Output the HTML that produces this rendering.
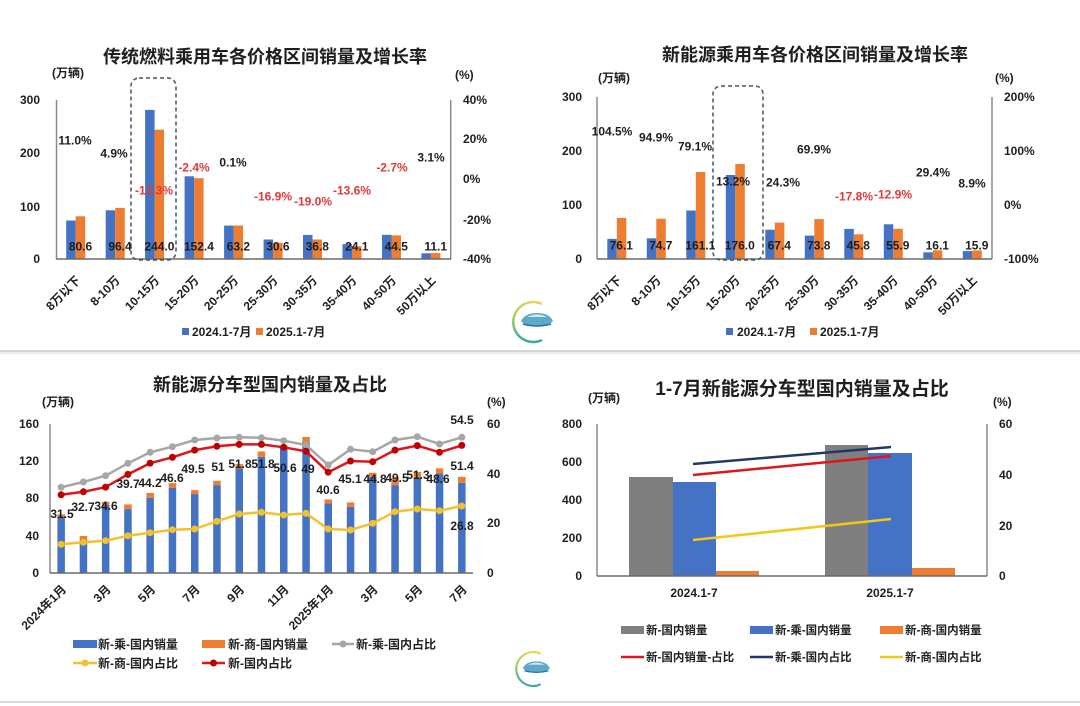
<!DOCTYPE html>
<html><head><meta charset="utf-8">
<style>
html,body{margin:0;padding:0;background:#fff;}
svg{display:block;}
svg text{font-family:"Liberation Sans","Noto Sans CJK SC",sans-serif;font-weight:bold;fill:#1e1e1e;}
.t{font-size:18px;}
.a{font-size:12px;}
.r{fill:#e23a3a;}
</style></head><body>
<svg width="1080" height="706" viewBox="0 0 1080 706" xmlns="http://www.w3.org/2000/svg">
<defs>
<linearGradient id="lg" x1="0" y1="0" x2="0" y2="1">
<stop offset="0" stop-color="#e8d35a"/><stop offset="0.5" stop-color="#8fc46a"/><stop offset="1" stop-color="#3aa6a0"/>
</linearGradient>
</defs>
<rect width="1080" height="706" fill="#fff"/>

<!-- separators -->
<rect x="0" y="350" width="1080" height="2" fill="#d4d4d4"/>
<rect x="0" y="352" width="1080" height="2" fill="#ececec"/>
<rect x="0" y="701" width="1080" height="2" fill="#d8d8d8"/>

<!-- ================= TOP LEFT ================= -->
<text class="t" x="265" y="63" text-anchor="middle">传统燃料乘用车各价格区间销量及增长率</text>
<text class="a" x="52" y="77">(万辆)</text>
<text class="a" x="455" y="79">(%)</text>
<g class="a" text-anchor="end">
<text x="40" y="104">300</text><text x="40" y="157">200</text><text x="40" y="211">100</text><text x="40" y="263">0</text>
</g>
<g class="a">
<text x="463" y="104">40%</text><text x="463" y="143">20%</text><text x="463" y="183">0%</text><text x="463" y="224">-20%</text><text x="463" y="263">-40%</text>
</g>
<g fill="#4472c4">
<rect x="66.2" y="220.5" width="9.5" height="38.5"/>
<rect x="105.7" y="210.3" width="9.5" height="48.7"/>
<rect x="145.1" y="109.9" width="9.5" height="149.1"/>
<rect x="184.6" y="176.3" width="9.5" height="82.7"/>
<rect x="224.1" y="225.6" width="9.5" height="33.4"/>
<rect x="263.6" y="239.5" width="9.5" height="19.5"/>
<rect x="303.0" y="234.9" width="9.5" height="24.1"/>
<rect x="342.5" y="244.2" width="9.5" height="14.8"/>
<rect x="382.0" y="234.8" width="9.5" height="24.2"/>
<rect x="421.4" y="253.3" width="9.5" height="5.7"/>
</g>
<g fill="#ed7d31">
<rect x="75.7" y="216.3" width="9.5" height="42.7"/>
<rect x="115.2" y="207.9" width="9.5" height="51.1"/>
<rect x="154.6" y="129.7" width="9.5" height="129.3"/>
<rect x="194.1" y="178.2" width="9.5" height="80.8"/>
<rect x="233.6" y="225.5" width="9.5" height="33.5"/>
<rect x="273.1" y="242.8" width="9.5" height="16.2"/>
<rect x="312.5" y="239.5" width="9.5" height="19.5"/>
<rect x="352.0" y="246.2" width="9.5" height="12.8"/>
<rect x="391.5" y="235.4" width="9.5" height="23.6"/>
<rect x="430.9" y="253.1" width="9.5" height="5.9"/>
</g>
<line x1="56.5" y1="100" x2="56.5" y2="259" stroke="#8a8a8a" stroke-width="1.5"/>
<line x1="450.7" y1="100" x2="450.7" y2="259" stroke="#8a8a8a" stroke-width="1.5"/>
<line x1="56" y1="259" x2="451" y2="259" stroke="#6a6a6a" stroke-width="1.5"/>
<rect x="131" y="78" width="45" height="182" rx="8" fill="none" stroke="#44546a" stroke-width="1.5" stroke-dasharray="4,3"/>
<g class="a" text-anchor="middle">
<text x="80.5" y="250.5">80.6</text><text x="120" y="250.5">96.4</text><text x="159.4" y="250.5">244.0</text><text x="198.9" y="250.5">152.4</text><text x="238.4" y="250.5">63.2</text><text x="277.9" y="250.5">30.6</text><text x="317.3" y="250.5">36.8</text><text x="356.8" y="250.5">24.1</text><text x="396.3" y="250.5">44.5</text><text x="435.7" y="250.5">11.1</text>
<text x="75" y="144.5">11.0%</text>
<text x="114" y="157.5">4.9%</text>
<text class="r" x="154" y="194.5">-13.3%</text>
<text class="r" x="194" y="171.5">-2.4%</text>
<text x="233" y="166.5">0.1%</text>
<text class="r" x="273" y="200.5">-16.9%</text>
<text class="r" x="313" y="205.5">-19.0%</text>
<text class="r" x="352" y="194.5">-13.6%</text>
<text class="r" x="392" y="171.5">-2.7%</text>
<text x="431" y="161.5">3.1%</text>
</g>
<g class="a" text-anchor="end">
<text transform="translate(78.2,278) rotate(-45)" dy=".35em">8万以下</text>
<text transform="translate(117.7,278) rotate(-45)" dy=".35em">8-10万</text>
<text transform="translate(157.1,278) rotate(-45)" dy=".35em">10-15万</text>
<text transform="translate(196.6,278) rotate(-45)" dy=".35em">15-20万</text>
<text transform="translate(236.1,278) rotate(-45)" dy=".35em">20-25万</text>
<text transform="translate(275.6,278) rotate(-45)" dy=".35em">25-30万</text>
<text transform="translate(315,278) rotate(-45)" dy=".35em">30-35万</text>
<text transform="translate(354.5,278) rotate(-45)" dy=".35em">35-40万</text>
<text transform="translate(394,278) rotate(-45)" dy=".35em">40-50万</text>
<text transform="translate(433.4,278) rotate(-45)" dy=".35em">50万以上</text>
</g>
<rect x="182" y="328" width="7" height="7" fill="#4472c4"/>
<text class="a" x="192" y="336">2024.1-7月</text>
<rect x="256" y="328" width="7" height="7" fill="#ed7d31"/>
<text class="a" x="266" y="336">2025.1-7月</text>

<!-- ================= TOP RIGHT ================= -->
<text class="t" x="815" y="61" text-anchor="middle">新能源乘用车各价格区间销量及增长率</text>
<text class="a" x="598" y="82">(万辆)</text>
<text class="a" x="995" y="82">(%)</text>
<g class="a" text-anchor="end">
<text x="582" y="101">300</text><text x="582" y="155">200</text><text x="582" y="209">100</text><text x="582" y="263">0</text>
</g>
<g class="a">
<text x="1004" y="101">200%</text><text x="1004" y="155">100%</text><text x="1004" y="209">0%</text><text x="1004" y="263">-100%</text>
</g>
<g fill="#4472c4">
<rect x="607.3" y="238.9" width="9.5" height="20.1"/>
<rect x="646.8" y="238.3" width="9.5" height="20.7"/>
<rect x="686.3" y="210.5" width="9.5" height="48.5"/>
<rect x="725.8" y="175.0" width="9.5" height="84.0"/>
<rect x="765.3" y="229.7" width="9.5" height="29.3"/>
<rect x="804.8" y="235.6" width="9.5" height="23.4"/>
<rect x="844.3" y="228.9" width="9.5" height="30.1"/>
<rect x="883.8" y="224.3" width="9.5" height="34.7"/>
<rect x="923.3" y="252.3" width="9.5" height="6.7"/>
<rect x="962.8" y="251.1" width="9.5" height="7.9"/>
</g>
<g fill="#ed7d31">
<rect x="616.8" y="217.9" width="9.5" height="41.1"/>
<rect x="656.3" y="218.7" width="9.5" height="40.3"/>
<rect x="695.8" y="172.0" width="9.5" height="87.0"/>
<rect x="735.3" y="164.0" width="9.5" height="95.0"/>
<rect x="774.8" y="222.6" width="9.5" height="36.4"/>
<rect x="814.3" y="219.1" width="9.5" height="39.9"/>
<rect x="853.8" y="234.3" width="9.5" height="24.7"/>
<rect x="893.3" y="228.8" width="9.5" height="30.2"/>
<rect x="932.8" y="250.3" width="9.5" height="8.7"/>
<rect x="972.3" y="250.4" width="9.5" height="8.6"/>
</g>
<line x1="597" y1="97" x2="597" y2="259" stroke="#8a8a8a" stroke-width="1.5"/>
<line x1="992" y1="97" x2="992" y2="259" stroke="#8a8a8a" stroke-width="1.5"/>
<line x1="597" y1="259" x2="992" y2="259" stroke="#6a6a6a" stroke-width="1.5"/>
<rect x="713" y="86" width="50" height="174" rx="8" fill="none" stroke="#44546a" stroke-width="1.5" stroke-dasharray="4,3"/>
<g class="a" text-anchor="middle">
<text x="621.3" y="249.5">76.1</text><text x="660.8" y="249.5">74.7</text><text x="700.3" y="249.5">161.1</text><text x="739.8" y="249.5">176.0</text><text x="779.3" y="249.5">67.4</text><text x="818.8" y="249.5">73.8</text><text x="858.3" y="249.5">45.8</text><text x="897.8" y="249.5">55.9</text><text x="937.3" y="249.5">16.1</text><text x="976.8" y="249.5">15.9</text>
<text x="612" y="135.5">104.5%</text>
<text x="656" y="141.5">94.9%</text>
<text x="695" y="150.5">79.1%</text>
<text x="733" y="185.5">13.2%</text>
<text x="783" y="186.5">24.3%</text>
<text x="814" y="153.5">69.9%</text>
<text class="r" x="854" y="200.5">-17.8%</text>
<text class="r" x="893" y="198.5">-12.9%</text>
<text x="933" y="176.5">29.4%</text>
<text x="972" y="187.5">8.9%</text>
</g>
<g class="a" text-anchor="end">
<text transform="translate(619.3,278) rotate(-45)" dy=".35em">8万以下</text>
<text transform="translate(658.8,278) rotate(-45)" dy=".35em">8-10万</text>
<text transform="translate(698.3,278) rotate(-45)" dy=".35em">10-15万</text>
<text transform="translate(737.8,278) rotate(-45)" dy=".35em">15-20万</text>
<text transform="translate(777.3,278) rotate(-45)" dy=".35em">20-25万</text>
<text transform="translate(816.8,278) rotate(-45)" dy=".35em">25-30万</text>
<text transform="translate(856.3,278) rotate(-45)" dy=".35em">30-35万</text>
<text transform="translate(895.8,278) rotate(-45)" dy=".35em">35-40万</text>
<text transform="translate(935.3,278) rotate(-45)" dy=".35em">40-50万</text>
<text transform="translate(974.8,278) rotate(-45)" dy=".35em">50万以上</text>
</g>
<rect x="726" y="328" width="7" height="7" fill="#4472c4"/>
<text class="a" x="737" y="336">2024.1-7月</text>
<rect x="810" y="328" width="7" height="7" fill="#ed7d31"/>
<text class="a" x="820" y="336">2025.1-7月</text>

<!-- logos -->
<g transform="translate(533,322)">
<path d="M 9 -18 A 20 20 0 1 0 9 18" fill="none" stroke="url(#lg)" stroke-width="2.5"/>
<path d="M -12 -1 Q -8 -9 4 -9 Q 16 -9 20 -1 Q 16 4 4 4 Q -8 4 -12 -1 Z" fill="#5da9cc"/>
<path d="M -6 -5 Q 4 -10 14 -5 Z" fill="#cfe8f2"/>
<path d="M -10 2 Q 4 6 18 2" fill="none" stroke="#2d6f9a" stroke-width="1.5"/>
</g>
<g transform="translate(533,669) scale(0.85)">
<path d="M 9 -18 A 20 20 0 1 0 9 18" fill="none" stroke="url(#lg)" stroke-width="2.5"/>
<path d="M -12 -1 Q -8 -9 4 -9 Q 16 -9 20 -1 Q 16 4 4 4 Q -8 4 -12 -1 Z" fill="#5da9cc"/>
<path d="M -6 -5 Q 4 -10 14 -5 Z" fill="#cfe8f2"/>
<path d="M -10 2 Q 4 6 18 2" fill="none" stroke="#2d6f9a" stroke-width="1.5"/>
</g>

<!-- ================= BOTTOM LEFT ================= -->
<text class="t" x="270" y="391" text-anchor="middle">新能源分车型国内销量及占比</text>
<text class="a" x="42" y="406">(万辆)</text>
<text class="a" x="487" y="406">(%)</text>
<g class="a" text-anchor="end">
<text x="39" y="428">160</text><text x="39" y="465">120</text><text x="39" y="502">80</text><text x="39" y="540">40</text><text x="39" y="577">0</text>
</g>
<g class="a">
<text x="487" y="428">60</text><text x="487" y="478">40</text><text x="487" y="527">20</text><text x="487" y="577">0</text>
</g>
<g fill="#4472c4">
<rect x="57.4" y="516.7" width="7.5" height="56.3"/>
<rect x="79.7" y="540.0" width="7.5" height="33.0"/>
<rect x="101.9" y="505.0" width="7.5" height="68.0"/>
<rect x="124.2" y="509.1" width="7.5" height="63.9"/>
<rect x="146.4" y="497.8" width="7.5" height="75.2"/>
<rect x="168.7" y="487.8" width="7.5" height="85.2"/>
<rect x="191.0" y="494.1" width="7.5" height="78.9"/>
<rect x="213.2" y="485.1" width="7.5" height="87.9"/>
<rect x="235.5" y="468.4" width="7.5" height="104.6"/>
<rect x="257.7" y="456.8" width="7.5" height="116.2"/>
<rect x="280.0" y="448.5" width="7.5" height="124.5"/>
<rect x="302.3" y="441.9" width="7.5" height="131.1"/>
<rect x="324.5" y="503.4" width="7.5" height="69.6"/>
<rect x="346.8" y="506.9" width="7.5" height="66.1"/>
<rect x="369.0" y="476.8" width="7.5" height="96.2"/>
<rect x="391.3" y="485.1" width="7.5" height="87.9"/>
<rect x="413.6" y="477.5" width="7.5" height="95.5"/>
<rect x="435.8" y="473.4" width="7.5" height="99.6"/>
<rect x="458.1" y="482.8" width="7.5" height="90.2"/>
</g>
<g fill="#ed7d31">
<rect x="57.4" y="514.3" width="7.5" height="2.4"/>
<rect x="79.7" y="536.0" width="7.5" height="4.0"/>
<rect x="101.9" y="501.8" width="7.5" height="3.2"/>
<rect x="124.2" y="504.4" width="7.5" height="4.7"/>
<rect x="146.4" y="492.9" width="7.5" height="4.9"/>
<rect x="168.7" y="483.1" width="7.5" height="4.7"/>
<rect x="191.0" y="490.1" width="7.5" height="4.0"/>
<rect x="213.2" y="480.8" width="7.5" height="4.3"/>
<rect x="235.5" y="464.1" width="7.5" height="4.3"/>
<rect x="257.7" y="451.5" width="7.5" height="5.3"/>
<rect x="280.0" y="445.4" width="7.5" height="3.1"/>
<rect x="302.3" y="437.0" width="7.5" height="4.9"/>
<rect x="324.5" y="499.4" width="7.5" height="4.0"/>
<rect x="346.8" y="502.4" width="7.5" height="4.5"/>
<rect x="369.0" y="472.8" width="7.5" height="4.0"/>
<rect x="391.3" y="477.5" width="7.5" height="7.6"/>
<rect x="413.6" y="471.9" width="7.5" height="5.6"/>
<rect x="435.8" y="468.4" width="7.5" height="5.0"/>
<rect x="458.1" y="476.8" width="7.5" height="6.0"/>
</g>
<line x1="50" y1="424" x2="50" y2="573" stroke="#8a8a8a" stroke-width="1.5"/>
<line x1="50" y1="573" x2="473" y2="573" stroke="#6a6a6a" stroke-width="1.5"/>
<!-- gray line -->
<g fill="#a6a6a6">
<polyline fill="none" stroke="#a6a6a6" stroke-width="2.5" points="61.1,487.3 83.4,482 105.6,475.7 127.9,463.3 150.1,452.3 172.4,446.7 194.7,440 216.9,438 239.2,437.3 261.4,437.7 283.7,440.7 306,445 328.2,465 350.5,449.3 372.7,451.7 395,440 417.3,436.7 439.5,444 461.8,437.3"/>
<circle cx="61.1" cy="487.3" r="3.5"/><circle cx="83.4" cy="482" r="3.5"/><circle cx="105.6" cy="475.7" r="3.5"/><circle cx="127.9" cy="463.3" r="3.5"/><circle cx="150.1" cy="452.3" r="3.5"/><circle cx="172.4" cy="446.7" r="3.5"/><circle cx="194.7" cy="440" r="3.5"/><circle cx="216.9" cy="438" r="3.5"/><circle cx="239.2" cy="437.3" r="3.5"/><circle cx="261.4" cy="437.7" r="3.5"/><circle cx="283.7" cy="440.7" r="3.5"/><circle cx="306" cy="445" r="3.5"/><circle cx="328.2" cy="465" r="3.5"/><circle cx="350.5" cy="449.3" r="3.5"/><circle cx="372.7" cy="451.7" r="3.5"/><circle cx="395" cy="440" r="3.5"/><circle cx="417.3" cy="436.7" r="3.5"/><circle cx="439.5" cy="444" r="3.5"/><circle cx="461.8" cy="437.3" r="3.5"/>
</g>
<!-- red line -->
<g fill="#c00000">
<polyline fill="none" stroke="#e0141c" stroke-width="2.5" points="61.1,494.8 83.4,491.8 105.6,487.1 127.9,474.4 150.1,463.2 172.4,457.3 194.7,450.1 216.9,446.3 239.2,444.4 261.4,444.4 283.7,447.3 306,451.3 328.2,472.2 350.5,461 372.7,461.7 395,450.1 417.3,445.6 439.5,452.3 461.8,445.4"/>
<circle cx="61.1" cy="494.8" r="3.5"/><circle cx="83.4" cy="491.8" r="3.5"/><circle cx="105.6" cy="487.1" r="3.5"/><circle cx="127.9" cy="474.4" r="3.5"/><circle cx="150.1" cy="463.2" r="3.5"/><circle cx="172.4" cy="457.3" r="3.5"/><circle cx="194.7" cy="450.1" r="3.5"/><circle cx="216.9" cy="446.3" r="3.5"/><circle cx="239.2" cy="444.4" r="3.5"/><circle cx="261.4" cy="444.4" r="3.5"/><circle cx="283.7" cy="447.3" r="3.5"/><circle cx="306" cy="451.3" r="3.5"/><circle cx="328.2" cy="472.2" r="3.5"/><circle cx="350.5" cy="461" r="3.5"/><circle cx="372.7" cy="461.7" r="3.5"/><circle cx="395" cy="450.1" r="3.5"/><circle cx="417.3" cy="445.6" r="3.5"/><circle cx="439.5" cy="452.3" r="3.5"/><circle cx="461.8" cy="445.4" r="3.5"/>
</g>
<!-- yellow line -->
<g fill="#f2c12e">
<polyline fill="none" stroke="#f2c12e" stroke-width="2.5" points="61.1,544.3 83.4,542.3 105.6,540.7 127.9,535.7 150.1,532.7 172.4,529.7 194.7,529 216.9,521.3 239.2,514 261.4,512.3 283.7,515 306,513.3 328.2,529 350.5,530 372.7,523.3 395,511.7 417.3,509 439.5,510.7 461.8,506"/>
<circle cx="61.1" cy="544.3" r="3.5"/><circle cx="83.4" cy="542.3" r="3.5"/><circle cx="105.6" cy="540.7" r="3.5"/><circle cx="127.9" cy="535.7" r="3.5"/><circle cx="150.1" cy="532.7" r="3.5"/><circle cx="172.4" cy="529.7" r="3.5"/><circle cx="194.7" cy="529" r="3.5"/><circle cx="216.9" cy="521.3" r="3.5"/><circle cx="239.2" cy="514" r="3.5"/><circle cx="261.4" cy="512.3" r="3.5"/><circle cx="283.7" cy="515" r="3.5"/><circle cx="306" cy="513.3" r="3.5"/><circle cx="328.2" cy="529" r="3.5"/><circle cx="350.5" cy="530" r="3.5"/><circle cx="372.7" cy="523.3" r="3.5"/><circle cx="395" cy="511.7" r="3.5"/><circle cx="417.3" cy="509" r="3.5"/><circle cx="439.5" cy="510.7" r="3.5"/><circle cx="461.8" cy="506" r="3.5"/>
</g>
<g class="a" text-anchor="middle">
<text x="62" y="518">31.5</text><text x="83" y="511">32.7</text><text x="106" y="510">34.6</text><text x="128" y="488">39.7</text><text x="150" y="487">44.2</text><text x="172" y="482">46.6</text><text x="193" y="473">49.5</text><text x="218" y="471">51</text><text x="240" y="468">51.8</text><text x="263" y="468">51.8</text><text x="285" y="472">50.6</text><text x="308" y="473">49</text><text x="328" y="494">40.6</text><text x="350" y="483">45.1</text><text x="375" y="483">44.8</text><text x="397" y="482">49.5</text><text x="418" y="479">51.3</text><text x="438" y="483">48.6</text><text x="462" y="470">51.4</text><text x="462" y="424">54.5</text><text x="462" y="530">26.8</text>
</g>
<g class="a" text-anchor="end">
<text transform="translate(64,587) rotate(-45)" dy=".35em">2024年1月</text>
<text transform="translate(108.6,587) rotate(-45)" dy=".35em">3月</text>
<text transform="translate(153.1,587) rotate(-45)" dy=".35em">5月</text>
<text transform="translate(197.7,587) rotate(-45)" dy=".35em">7月</text>
<text transform="translate(242.2,587) rotate(-45)" dy=".35em">9月</text>
<text transform="translate(286.7,587) rotate(-45)" dy=".35em">11月</text>
<text transform="translate(331.2,587) rotate(-45)" dy=".35em">2025年1月</text>
<text transform="translate(375.7,587) rotate(-45)" dy=".35em">3月</text>
<text transform="translate(420.3,587) rotate(-45)" dy=".35em">5月</text>
<text transform="translate(464.8,587) rotate(-45)" dy=".35em">7月</text>
</g>
<rect x="73" y="640" width="24" height="8" fill="#4472c4"/>
<text class="a" x="98" y="648.5">新-乘-国内销量</text>
<rect x="202" y="640" width="23" height="8" fill="#ed7d31"/>
<text class="a" x="228" y="648.5">新-商-国内销量</text>
<line x1="332" y1="644" x2="354" y2="644" stroke="#a6a6a6" stroke-width="2.5"/><circle cx="343" cy="644" r="3.5" fill="#a6a6a6"/>
<text class="a" x="356" y="648.5">新-乘-国内占比</text>
<line x1="73" y1="663" x2="97" y2="663" stroke="#f2c12e" stroke-width="2.5"/><circle cx="85" cy="663" r="3.5" fill="#f2c12e"/>
<text class="a" x="98" y="667.5">新-商-国内占比</text>
<line x1="202" y1="663" x2="225" y2="663" stroke="#e0141c" stroke-width="2.5"/><circle cx="213.5" cy="663" r="3.5" fill="#c00000"/>
<text class="a" x="228" y="667.5">新-国内占比</text>

<!-- ================= BOTTOM RIGHT ================= -->
<text class="t" x="802" y="395" text-anchor="middle" style="font-size:19px">1-7月新能源分车型国内销量及占比</text>
<text class="a" x="588" y="402">(万辆)</text>
<text class="a" x="993" y="406">(%)</text>
<g class="a" text-anchor="end">
<text x="582" y="428">800</text><text x="582" y="466">600</text><text x="582" y="504">400</text><text x="582" y="542">200</text><text x="582" y="580">0</text>
</g>
<g class="a">
<text x="999" y="428">60</text><text x="999" y="479">40</text><text x="999" y="530">20</text><text x="999" y="580">0</text>
</g>
<rect x="629" y="477" width="44" height="99" fill="#7f7f7f"/>
<rect x="673" y="482" width="43" height="94" fill="#4472c4"/>
<rect x="716" y="571" width="43" height="5" fill="#ed7d31"/>
<rect x="825" y="445" width="43" height="131" fill="#7f7f7f"/>
<rect x="868" y="453" width="44" height="123" fill="#4472c4"/>
<rect x="912" y="568" width="43" height="8" fill="#ed7d31"/>
<line x1="597" y1="424" x2="597" y2="576" stroke="#8a8a8a" stroke-width="1.5"/>
<line x1="987" y1="424" x2="987" y2="576" stroke="#8a8a8a" stroke-width="1.5"/>
<line x1="597" y1="576" x2="987" y2="576" stroke="#6a6a6a" stroke-width="1.5"/>
<line x1="693" y1="464" x2="891" y2="447" stroke="#1f3864" stroke-width="2.5"/>
<line x1="693" y1="475" x2="891" y2="456" stroke="#e0141c" stroke-width="2.5"/>
<line x1="693" y1="540" x2="891" y2="519" stroke="#f5c518" stroke-width="2.5"/>
<text class="a" x="694" y="597" text-anchor="middle">2024.1-7</text>
<text class="a" x="890" y="597" text-anchor="middle">2025.1-7</text>
<g style="font-size:11.5px">
<rect x="621" y="626" width="23" height="8" fill="#7f7f7f"/>
<text class="a" style="font-size:11.5px" x="646" y="634">新-国内销量</text>
<rect x="750" y="626" width="23" height="8" fill="#4472c4"/>
<text class="a" style="font-size:11.5px" x="775" y="634">新-乘-国内销量</text>
<rect x="880" y="626" width="23" height="8" fill="#ed7d31"/>
<text class="a" style="font-size:11.5px" x="905" y="634">新-商-国内销量</text>
<line x1="621" y1="657" x2="644" y2="657" stroke="#e0141c" stroke-width="2.5"/>
<text class="a" style="font-size:11.5px" x="646" y="661">新-国内销量-占比</text>
<line x1="750" y1="657" x2="773" y2="657" stroke="#1f3864" stroke-width="2.5"/>
<text class="a" style="font-size:11.5px" x="775" y="661">新-乘-国内占比</text>
<line x1="880" y1="657" x2="903" y2="657" stroke="#f5c518" stroke-width="2.5"/>
<text class="a" style="font-size:11.5px" x="905" y="661">新-商-国内占比</text>
</g>
</svg>
</body></html>
